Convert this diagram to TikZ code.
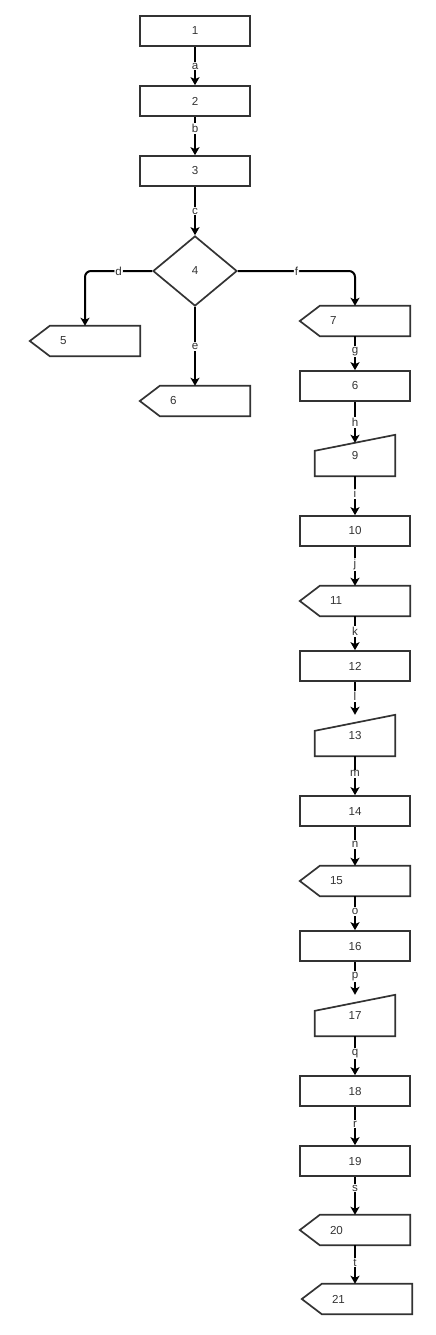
\documentclass[tikz,border=0pt]{standalone}
\usepackage{fontspec}
\setmainfont{Liberation Sans}
\usetikzlibrary{calc, shapes.geometric, arrows.meta}
\definecolor{boxgray}{HTML}{333333}

\begin{document}
\begin{tikzpicture}[x=1pt, y=-1pt,
		every node/.style={font=\fontsize{11.6}{13}\selectfont, text=boxgray},
		proc/.style={draw=boxgray, line width=1.7pt, minimum width=110pt, minimum height=30pt, inner sep=0pt},
		offpage/.style={text width=50pt, inner xsep=30pt, inner ysep=0pt, minimum height=30pt, align=left},
		manual/.style={minimum width=80pt, minimum height=41pt, inner sep=0pt},
		outline/.style={draw=boxgray, line width=1.7pt},
		flow/.style={line width=2pt, -{Stealth[length=8pt, width=9pt, inset=2pt]}},
		lbl/.style={fill=white, inner sep=1pt}]
		\def\tip{20pt};
		\def\slant{16pt};

		\useasboundingbox (0,0) rectangle (436,1335);

		\node[proc] (n1) at (195,31) {1};
		\node[proc] (n2) at (195,101) {2};
		\node[proc] (n3) at (195,171) {3};
		\node[diamond, draw=boxgray, line width=1.7pt, minimum width=84pt, minimum height=70pt, inner sep=0pt] (n4) at (195,271) {4};
		\node[offpage] (n5) at (85,341) {5};
		\node[offpage] (n6a) at (195,401) {6};
		\node[offpage] (n7) at (355,321) {7};
		\node[proc] (n8) at (355,386) {6};
		\node[manual] (n9) at (355,455.5) {9};
		\node[proc] (n10) at (355,531) {10};
		\node[offpage] (n11) at (355,601) {11};
		\node[proc] (n12) at (355,666) {12};
		\node[manual] (n13) at (355,735.5) {13};
		\node[proc] (n14) at (355,811) {14};
		\node[offpage] (n15) at (355,881) {15};
		\node[proc] (n16) at (355,946) {16};
		\node[manual] (n17) at (355,1015.5) {17};
		\node[proc] (n18) at (355,1091) {18};
		\node[proc] (n19) at (355,1161) {19};
		\node[offpage] (n20) at (355,1230) {20};
		\node[offpage] (n21) at (357,1299) {21};

		\foreach \n in {n5, n6a, n7, n11, n15, n20, n21}
			\draw[outline] (\n.north east) -- ([xshift=\tip]\n.north west) -- (\n.west) -- ([xshift=\tip]\n.south west) -- (\n.south east) -- cycle;
		\foreach \n in {n9, n13, n17}
			\draw[outline] (\n.south west) -- (\n.south east) -- (\n.north east) -- ([yshift=-\slant]\n.north west) -- cycle;

		\draw[flow] (n1) -- node[lbl] {a} (n2);
		\draw[flow] (n2) -- node[lbl, pos=0.3] {b} (n3);
		\draw[flow] (n3) -- node[lbl] {c} (n4);
		\draw[flow, rounded corners=6pt] (n4.west) -| node[lbl, pos=0.25] {d} (n5.north);
		\draw[flow] (n4) -- node[lbl] {e} (n6a);
		\draw[flow, rounded corners=6pt] (n4.east) -| node[lbl, pos=0.25] {f} (n7.north);
		\draw[flow] (n8) -- node[lbl] {h} ($(n9.north)+(0,8)$);

		\foreach \a/\b/\l in {n7/n8/g, n9/n10/i, n10/n11/j, n11/n12/k, n12/n13/l, n13/n14/m, n14/n15/n, n15/n16/o, n16/n17/p, n17/n18/q, n18/n19/r}
			\draw[flow] (\a) -- node[lbl, pos=0.45] {\l} (\b);
		\draw[flow] (n19) -- node[lbl, pos=0.3] {s} (n20);
		\draw[flow] (n20.south) -- node[lbl, pos=0.45] {t} (n20.south |- n21.north);
	\end{tikzpicture}
\end{document}
